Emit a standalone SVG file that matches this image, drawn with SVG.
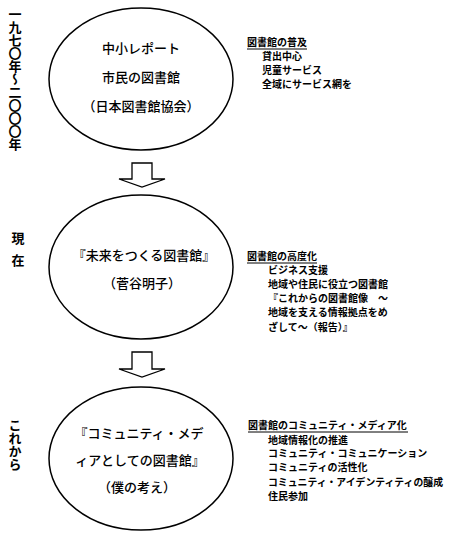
<svg xmlns="http://www.w3.org/2000/svg" width="450" height="537" viewBox="0 0 450 537">
<style>
.node{fill:#fff;stroke:#000;stroke-width:1.5}
.arrow{fill:#fff;stroke:#000;stroke-width:1.3;stroke-linejoin:miter}
.t{font-family:"Noto Sans CJK JP","Noto Sans CJK SC",sans-serif;fill:#000}
.c{font-size:13px;text-anchor:middle;font-weight:500}
.lab{font-size:13px;font-weight:bold}
.vert{writing-mode:vertical-rl}
.r{font-size:10px;font-weight:bold}
.u{stroke:#000;stroke-width:1}
</style>
<rect width="450" height="537" fill="#fff"/>
<g id="labels">
<text class="t lab vert" x="15" y="8">一九七〇年～二〇〇〇年</text>
<text class="t lab" x="18" y="243" text-anchor="middle">現</text>
<text class="t lab" x="18" y="265" text-anchor="middle">在</text>
<text class="t lab vert" x="15" y="419">これから</text>
</g>
<g id="node1">
<ellipse class="node" cx="141" cy="79" rx="92" ry="71"/>
<text class="t c" x="141" y="53">中小レポート</text>
<text class="t c" x="141" y="82">市民の図書館</text>
<text class="t c" x="141" y="111">（日本図書館協会）</text>
</g>
<g id="node2">
<ellipse class="node" cx="141" cy="267" rx="92" ry="72"/>
<text class="t c" x="144" y="260">『未来をつくる図書館』</text>
<text class="t c" x="142" y="288">（菅谷明子）</text>
</g>
<g id="node3">
<ellipse class="node" cx="141" cy="458.5" rx="92" ry="71.5"/>
<text class="t c" x="139" y="438">『コミュニティ・メデ</text>
<text class="t c" x="140" y="465">ィアとしての図書館』</text>
<text class="t c" x="137" y="492">（僕の考え）</text>
</g>
<g id="connectors">
<path class="arrow" d="M132,163 H152 V179 H165 L142,187 L119,179 H132 Z"/>
<path class="arrow" d="M132,352 H152 V369 H165 L142,377 L119,369 H132 Z"/>
</g>
<g id="note1">
<text class="t r" x="247" y="46">図書館の普及</text>
<line class="u" x1="247" y1="49" x2="307" y2="49"/>
<text class="t r" x="262" y="60">貸出中心</text>
<text class="t r" x="262" y="74">児童サービス</text>
<text class="t r" x="262" y="88">全域にサービス網を</text>
</g>
<g id="note2">
<text class="t r" x="247" y="260">図書館の高度化</text>
<line class="u" x1="247" y1="263" x2="317" y2="263"/>
<text class="t r" x="268" y="273.5">ビジネス支援</text>
<text class="t r" x="268" y="287.5">地域や住民に役立つ図書館</text>
<text class="t r" x="268" y="302">『これからの図書館像　～</text>
<text class="t r" x="268" y="316">地域を支える情報拠点をめ</text>
<text class="t r" x="268" y="331">ざして～（報告）』</text>
</g>
<g id="note3">
<text class="t r" x="248" y="429">図書館のコミュニティ・メディア化</text>
<line class="u" x1="248" y1="432" x2="408" y2="432"/>
<text class="t r" x="268" y="443.5">地域情報化の推進</text>
<text class="t r" x="268" y="457">コミュニティ・コミュニケーション</text>
<text class="t r" x="268" y="471">コミュニティの活性化</text>
<text class="t r" x="268" y="486" textLength="175" lengthAdjust="spacingAndGlyphs">コミュニティ・アイデンティティの醸成</text>
<text class="t r" x="268" y="500">住民参加</text>
</g>
</svg>
